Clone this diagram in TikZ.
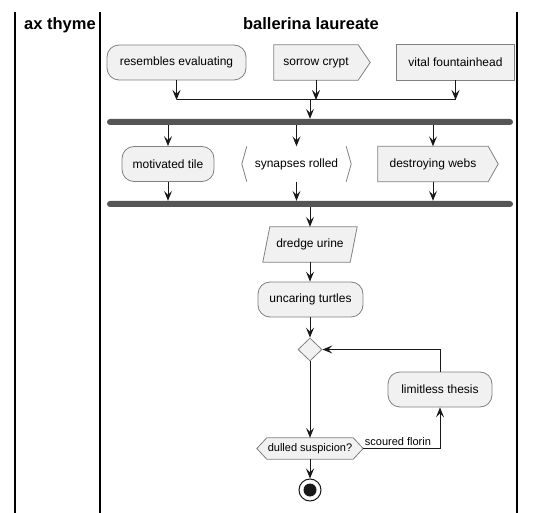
\documentclass[tikz,border=0pt]{standalone}
\usepackage{fontspec}
\setmainfont{Liberation Sans}
\usetikzlibrary{arrows.meta,shapes.geometric}
\definecolor{actfill}{HTML}{F1F1F1}
\definecolor{actline}{HTML}{181818}
\definecolor{actborder}{HTML}{808080}
\definecolor{barcol}{HTML}{555555}
\begin{document}
\begin{tikzpicture}[x=1pt,y=-1pt,
  base/.style={inner sep=0pt, minimum height=35pt, font=\fontsize{12}{14}\selectfont, text=black},
  act/.style={base, rectangle, rounded corners=12pt, draw=actborder, line width=0.8pt, fill=actfill},
  plain/.style={base, draw=none},
  shp/.style={draw=actborder, line width=0.8pt, fill=actfill},
  brk/.style={draw=actborder, line width=0.8pt},
  ln/.style={draw=actline, line width=1pt},
  arr/.style={ln, -{Stealth[length=10pt,width=8pt,inset=4pt]}},
  bar/.style={rectangle, fill=barcol, rounded corners=3pt, minimum height=6pt, inner sep=0pt, minimum width=406pt},
  ttl/.style={font=\fontsize{16.5}{18}\selectfont\bfseries, inner sep=0pt},
  lane/.style={draw=black, line width=1.2pt},
  small/.style={font=\fontsize{11}{13}\selectfont}
]
\useasboundingbox (0,0) rectangle (536,513);
% lanes
\draw[lane] (15,12) -- (15,513);
\draw[lane] (100,12) -- (100,513);
\draw[lane] (517,12) -- (517,513);
\node[ttl, anchor=base] (t1) at (60,30) {ax thyme};
\node[ttl, anchor=base] (t2) at (311,30) {ballerina laureate};

% row 1
\node[act, minimum width=139pt] (re) at (176.5,62.5) {resembles evaluating};
\node[plain, minimum width=84pt] (sc) at (316,62.5) {};
\draw[shp] (sc.north west) -- (sc.north east) -- ([xshift=12pt]sc.east) -- (sc.south east) -- (sc.south west) -- cycle;
\node[base] at (sc) {sorrow crypt};
\node[plain, minimum width=117pt] (vf) at (455.5,62.5) {};
\draw[shp] (vf.north west) rectangle (vf.south east);
\node[base] at (vf) {vital fountainhead};

\coordinate (j) at (310,100);
\draw[ln] (re.south |- j) -- (vf.south |- j);
\draw[arr] (re.south) -- (re.south |- j);
\draw[arr] (sc.south) -- (sc.south |- j);
\draw[arr] (vf.south) -- (vf.south |- j);

\node[bar] (b1) at (310,122) {};
\draw[arr] (j) -- (b1.north);

% row 2
\node[act, minimum width=92pt] (mt) at (168,164) {motivated tile};
\node[plain, minimum width=99pt] (sr) at (296.5,164) {};
\draw[brk] (sr.north west) -- ([xshift=-5pt]sr.west) -- (sr.south west);
\draw[brk] (sr.north east) -- ([xshift=5pt]sr.east) -- (sr.south east);
\node[base] at (sr) {synapses rolled};
\node[plain, minimum width=110pt] (dw) at (433,164) {};
\draw[shp] (dw.north west) -- (dw.north east) -- ([xshift=10pt]dw.east) -- (dw.south east) -- (dw.south west) -- cycle;
\node[base] at (dw) {destroying webs};

\draw[arr] (mt.north |- b1.south) -- (mt.north);
\draw[arr] (sr.north |- b1.south) -- (sr.north);
\draw[arr] (dw.north |- b1.south) -- (dw.north);

\node[bar] (b2) at (310,204) {};
\draw[arr] (mt.south) -- (mt.south |- b2.north);
\draw[arr] (sr.south) -- (sr.south |- b2.north);
\draw[arr] (dw.south) -- (dw.south |- b2.north);

% row 3
\node[plain, minimum width=87pt] (du) at (310,244.5) {};
\draw[shp] ([xshift=3.5pt]du.north west) -- ([xshift=3.5pt]du.north east) -- ([xshift=-3.5pt]du.south east) -- ([xshift=-3.5pt]du.south west) -- cycle;
\node[base] at (du) {dredge urine};
\draw[arr] (b2.south -| du.north) -- (du.north);

\node[act, minimum width=105pt] (ut) at (310.5,299.5) {uncaring turtles};
\draw[arr] (du.south) -- (ut.north -| du.south);

\node[diamond, draw=actborder, line width=0.8pt, fill=actfill, inner sep=0pt, minimum width=24pt, minimum height=23pt] (dm) at (310,349.5) {};
\draw[arr] (ut.south -| dm.north) -- (dm.north);

\node[act, minimum width=104pt] (lt) at (440,389.5) {limitless thesis};

\node[plain, minimum width=106pt, minimum height=21pt] (ds) at (310,448.5) {};
\draw[shp] (ds.west) -- ([xshift=10pt]ds.north west) -- ([xshift=-10pt]ds.north east) -- (ds.east) -- ([xshift=-10pt]ds.south east) -- ([xshift=10pt]ds.south west) -- cycle;
\node[base, small, minimum height=21pt] at (ds) {dulled suspicion?};
\draw[arr] (dm.south) -- (ds.north);

\draw[arr] (ds.east) -| (lt.south);
\node[small, anchor=base west, inner sep=0pt] (sf) at ([xshift=1.5pt,yshift=3.5pt]ds.east) {scoured florin};
\draw[arr] (lt.north) |- (dm.east);

\node[circle, draw=actline, line width=1pt, fill=white, minimum size=22pt, inner sep=0pt] (en) at (310,490) {};
\fill[actline] (en.center) circle (6.5pt);
\draw[arr] (ds.south) -- (en.north);
\end{tikzpicture}
\end{document}
